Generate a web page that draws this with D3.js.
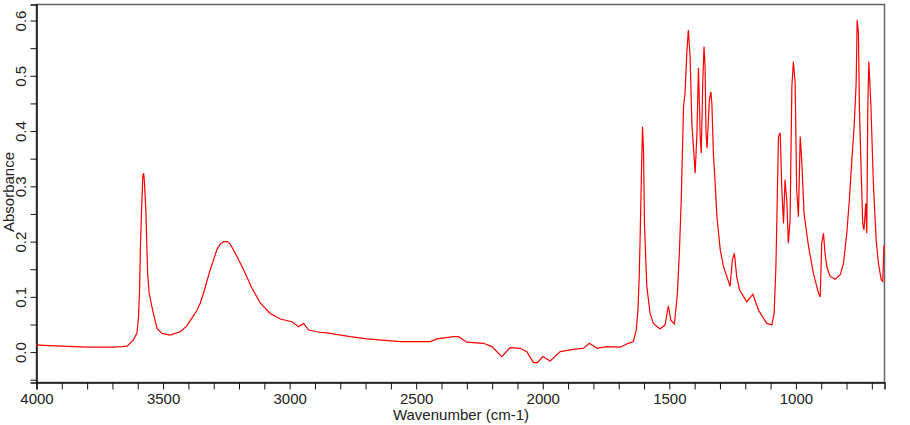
<!DOCTYPE html>
<html>
<head>
<meta charset="utf-8">
<script src="https://cdn.jsdelivr.net/npm/d3@7"></script>
<style>
  body { margin: 0; background: #fff; }
  text { font-family: Arial, "Liberation Sans", sans-serif; }
</style>
</head>
<body>
<div id="chart"></div>
<script>
'use strict';

// spectrum, wavenumber (cm-1) vs absorbance
const wavenumber = [
    4000, 3950, 3900, 3850, 3800, 3750, 3700, 3660, 3640, 3615, 3601, 3595, 3591, 3587, 3583, 3578, 3575, 3572,
    3566, 3559, 3553, 3542, 3533, 3522, 3502, 3470, 3430, 3405, 3385, 3365, 3351, 3338, 3312, 3285, 3272, 3258,
    3245, 3233, 3206, 3180, 3147, 3114, 3075, 3035, 2989, 2963, 2943, 2923, 2880, 2851, 2759, 2693, 2561, 2443, 2416,
    2351, 2331, 2298, 2232, 2199, 2160, 2127, 2087, 2061, 2035, 2019, 1998, 1969, 1929, 1877, 1837, 1814, 1784,
    1745, 1692, 1660, 1640, 1629, 1622, 1617, 1613, 1609, 1604, 1600, 1596, 1587, 1574, 1561, 1535, 1515, 1502,
    1492, 1478, 1466, 1458, 1451, 1442, 1436, 1429, 1423, 1416, 1409, 1403, 1396, 1389, 1383, 1376, 1372, 1366,
    1361, 1357, 1353, 1349, 1340, 1334, 1330, 1324, 1317, 1310, 1297, 1284, 1258, 1249, 1241, 1232, 1221, 1192,
    1168, 1146, 1113, 1093, 1084, 1077, 1073, 1067, 1060, 1054, 1047, 1041, 1034, 1028, 1021, 1014, 1008, 1001,
    995, 988, 981, 975, 966, 948, 929, 909, 902, 896, 889, 883, 876, 863, 843, 823, 810, 797,
    787, 777, 768, 760, 756, 751, 747, 740, 734, 729, 722, 718, 714, 710, 702, 692, 681, 672,
    661, 655, 650
];
const absorbance = [
    0.012, 0.011, 0.010, 0.009, 0.008, 0.008, 0.008, 0.009, 0.010, 0.021, 0.034, 0.063, 0.110, 0.197, 0.256, 0.317, 0.323, 0.310,
    0.256, 0.142, 0.106, 0.081, 0.063, 0.042, 0.033, 0.030, 0.036, 0.046, 0.060, 0.074, 0.088, 0.106, 0.148, 0.185, 0.195, 0.199,
    0.199, 0.195, 0.172, 0.148, 0.115, 0.088, 0.069, 0.059, 0.054, 0.045, 0.051, 0.039, 0.035, 0.034, 0.027, 0.023, 0.018, 0.018, 0.023,
    0.027, 0.027, 0.017, 0.015, 0.009, -0.009, 0.007, 0.006, 0.000, -0.020, -0.020, -0.009, -0.017, 0.000, 0.004, 0.006, 0.015, 0.006,
    0.009, 0.008, 0.015, 0.018, 0.039, 0.075, 0.136, 0.214, 0.305, 0.407, 0.365, 0.226, 0.118, 0.069, 0.051, 0.041, 0.048, 0.083,
    0.057, 0.050, 0.106, 0.184, 0.274, 0.443, 0.467, 0.540, 0.582, 0.534, 0.413, 0.371, 0.323, 0.395, 0.513, 0.389, 0.359, 0.486,
    0.552, 0.516, 0.395, 0.368, 0.455, 0.470, 0.449, 0.359, 0.305, 0.244, 0.184, 0.154, 0.118, 0.166, 0.178, 0.136, 0.112, 0.090,
    0.104, 0.075, 0.051, 0.048, 0.069, 0.154, 0.244, 0.389, 0.396, 0.298, 0.232, 0.311, 0.274, 0.196, 0.238, 0.479, 0.525, 0.486,
    0.293, 0.244, 0.389, 0.347, 0.250, 0.190, 0.142, 0.106, 0.099, 0.196, 0.214, 0.178, 0.154, 0.136, 0.131, 0.139, 0.160, 0.214,
    0.274, 0.347, 0.407, 0.486, 0.600, 0.576, 0.437, 0.323, 0.232, 0.220, 0.268, 0.214, 0.443, 0.525, 0.449, 0.305, 0.202, 0.160,
    0.130, 0.127, 0.193
];

const xTicks = d3.range(4000, 649, -100);
const xLabels = [4000, 3500, 3000, 2500, 2000, 1500, 1000];
const yTicks = d3.range(-0.05, 0.6251, 0.05).map(d => +d.toFixed(2));
const yLabels = [0.0, 0.1, 0.2, 0.3, 0.4, 0.5, 0.6];

const width = 910, height = 425;
const margin = { top: 4, right: 26, bottom: 43, left: 36 };

const svg = d3.select('#chart')
    .append('svg')
    .attr('width', width)
    .attr('height', height);

const x = d3.scaleLinear()
    .domain([4000, 650])
    .range([margin.left, width - margin.right]);
const y = d3.scaleLinear()
    .domain([-0.055, 0.629])
    .range([height - margin.bottom, margin.top]);

// frame
svg.append('rect')
    .attr('x', margin.left + 0.5)
    .attr('y', margin.top + 0.5)
    .attr('width', width - margin.left - margin.right)
    .attr('height', height - margin.top - margin.bottom)
    .attr('fill', 'none')
    .attr('stroke', '#666')
    .attr('stroke-width', 1.5);

// x axis
const xAxis = svg.append('g')
    .attr('transform', `translate(0.5,${height - margin.bottom + 0.5})`)
    .call(d3.axisBottom(x).tickValues(xTicks).tickSize(7).tickFormat(d => xLabels.includes(d) ? d : ''));
xAxis.select('.domain').attr('stroke', '#111').attr('stroke-width', 1.5);
xAxis.selectAll('.tick line').attr('stroke', '#111');
xAxis.selectAll('.tick text')
    .attr('y', 11)
    .attr('font-size', 15)
    .attr('fill', '#222');

// y axis
const yAxis = svg.append('g')
    .attr('transform', `translate(${margin.left + 0.5},0.5)`)
    .call(d3.axisLeft(y).tickValues(yTicks).tickSize(6)
        .tickFormat(d => yLabels.some(l => Math.abs(l - d) < 1e-6) ? d3.format('.1f')(d) : ''));
yAxis.select('.domain').attr('stroke', '#111').attr('stroke-width', 1.5);
yAxis.selectAll('.tick line').attr('stroke', '#111');
yAxis.selectAll('.tick text')
    .attr('x', 0)
    .attr('dy', 0)
    .attr('transform', 'translate(-11,0) rotate(-90)')
    .attr('text-anchor', 'middle')
    .attr('font-size', 15)
    .attr('fill', '#222');

// axis titles
svg.append('text')
    .attr('x', 461)
    .attr('y', 420)
    .attr('text-anchor', 'middle')
    .attr('font-size', 15)
    .attr('fill', '#222')
    .text('Wavenumber (cm-1)');

svg.append('text')
    .attr('transform', 'translate(14,192) rotate(-90)')
    .attr('text-anchor', 'middle')
    .attr('font-size', 15)
    .attr('fill', '#222')
    .text('Absorbance');

// spectrum
const points = wavenumber.map((w, i) => [w, absorbance[i]]);
const line = d3.line()
    .x(d => x(d[0]))
    .y(d => y(d[1]));

svg.append('path')
    .datum(points)
    .attr('fill', 'none')
    .attr('stroke', '#ff0000')
    .attr('stroke-width', 1.2)
    .attr('d', line);
</script>
</body>
</html>
